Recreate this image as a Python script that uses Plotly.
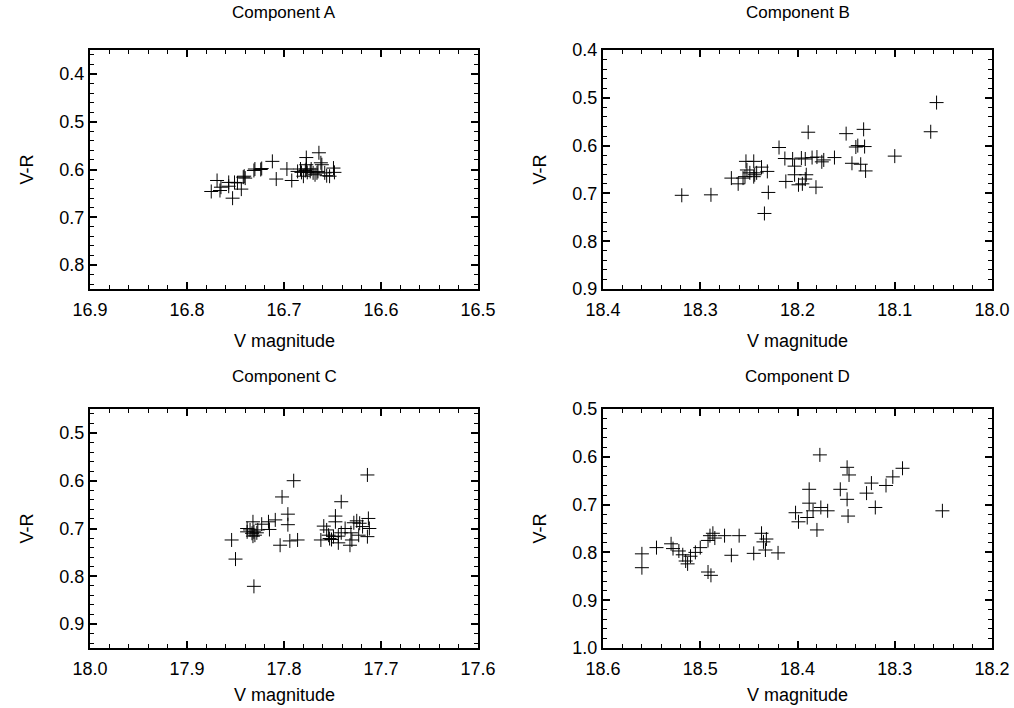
import plotly.graph_objects as go

# ---------------- data ----------------
A_V = [16.775, 16.769, 16.766, 16.765, 16.757, 16.757, 16.753, 16.751, 16.748, 16.744,
       16.741, 16.740, 16.742, 16.731, 16.730, 16.724, 16.723, 16.712, 16.708, 16.697,
       16.692, 16.686, 16.682, 16.678, 16.677, 16.677, 16.677, 16.680, 16.676, 16.673,
       16.670, 16.668, 16.664, 16.662, 16.661, 16.665, 16.666, 16.658, 16.656, 16.653,
       16.649, 16.648, 16.683, 16.672]
A_VR = [0.646, 0.623, 0.644, 0.637, 0.627, 0.635, 0.660, 0.627, 0.628, 0.641,
        0.614, 0.618, 0.616, 0.602, 0.599, 0.600, 0.598, 0.583, 0.620, 0.599,
        0.623, 0.604, 0.606, 0.602, 0.575, 0.590, 0.599, 0.614, 0.606, 0.604,
        0.607, 0.611, 0.565, 0.586, 0.590, 0.604, 0.607, 0.607, 0.613, 0.614,
        0.597, 0.606, 0.599, 0.599]

B_V = [18.057, 18.063, 18.100, 18.189, 18.150, 18.132, 18.140, 18.138, 18.131, 18.162,
       18.144, 18.135, 18.130, 18.173, 18.175, 18.180, 18.185, 18.192, 18.196, 18.191,
       18.192, 18.195, 18.181, 18.219, 18.213, 18.205, 18.203, 18.212, 18.199, 18.203,
       18.253, 18.245, 18.252, 18.237, 18.231, 18.249, 18.244, 18.242, 18.254, 18.256,
       18.268, 18.261, 18.245, 18.319, 18.289, 18.230, 18.234]
B_VR = [0.510, 0.571, 0.622, 0.572, 0.575, 0.566, 0.603, 0.600, 0.602, 0.625,
        0.637, 0.639, 0.653, 0.630, 0.634, 0.624, 0.625, 0.628, 0.626, 0.661,
        0.670, 0.680, 0.687, 0.604, 0.627, 0.628, 0.643, 0.675, 0.682, 0.661,
        0.633, 0.633, 0.651, 0.645, 0.654, 0.657, 0.661, 0.657, 0.665, 0.668,
        0.668, 0.680, 0.665, 0.704, 0.703, 0.698, 0.742]

C_V = [17.714, 17.790, 17.802, 17.741, 17.796, 17.796, 17.804, 17.794, 17.786, 17.854,
       17.850, 17.831, 17.832, 17.823, 17.816, 17.809, 17.815, 17.838, 17.838, 17.835,
       17.833, 17.831, 17.830, 17.832, 17.828, 17.827, 17.747, 17.747, 17.759, 17.756,
       17.754, 17.762, 17.753, 17.751, 17.749, 17.744, 17.741, 17.737, 17.731, 17.730,
       17.732, 17.728, 17.725, 17.722, 17.719, 17.713, 17.712, 17.714, 17.723, 17.744]
C_VR = [0.588, 0.600, 0.634, 0.644, 0.670, 0.692, 0.735, 0.726, 0.724, 0.724,
        0.764, 0.821, 0.686, 0.691, 0.686, 0.682, 0.702, 0.700, 0.707, 0.703,
        0.710, 0.707, 0.714, 0.716, 0.709, 0.703, 0.674, 0.686, 0.695, 0.703,
        0.714, 0.724, 0.721, 0.723, 0.717, 0.730, 0.709, 0.700, 0.709, 0.724,
        0.735, 0.688, 0.684, 0.689, 0.696, 0.679, 0.700, 0.717, 0.714, 0.716]

D_V = [18.377, 18.349, 18.347, 18.292, 18.302, 18.309, 18.324, 18.329, 18.356, 18.349,
       18.320, 18.348, 18.251, 18.388, 18.388, 18.384, 18.376, 18.369, 18.402, 18.399,
       18.390, 18.380,
       18.560, 18.560, 18.545, 18.530, 18.528, 18.522, 18.518, 18.515, 18.513, 18.510,
       18.505, 18.500, 18.492, 18.490, 18.487, 18.485, 18.492, 18.489, 18.475, 18.468,
       18.460, 18.445, 18.437, 18.435, 18.432, 18.433, 18.420]
D_VR = [0.596, 0.622, 0.638, 0.624, 0.642, 0.660, 0.655, 0.676, 0.668, 0.689,
        0.706, 0.724, 0.713, 0.668, 0.697, 0.713, 0.706, 0.713, 0.717, 0.736,
        0.727, 0.753,
        0.803, 0.832, 0.790, 0.782, 0.792, 0.797, 0.805, 0.818, 0.824, 0.808,
        0.800, 0.790, 0.775, 0.765, 0.760, 0.770, 0.841, 0.848, 0.765, 0.806,
        0.765, 0.802, 0.760, 0.778, 0.772, 0.795, 0.801]

titles = ["Component A", "Component B", "Component C", "Component D"]
x_label = "V magnitude"
y_label = "V-R"

x_ticks = [[16.9, 16.8, 16.7, 16.6, 16.5],
           [18.4, 18.3, 18.2, 18.1, 18.0],
           [18.0, 17.9, 17.8, 17.7, 17.6],
           [18.6, 18.5, 18.4, 18.3, 18.2]]
y_ticks = [[0.4, 0.5, 0.6, 0.7, 0.8],
           [0.4, 0.5, 0.6, 0.7, 0.8, 0.9],
           [0.5, 0.6, 0.7, 0.8, 0.9],
           [0.5, 0.6, 0.7, 0.8, 0.9, 1.0]]
x_ranges = [[16.9, 16.5], [18.4, 18.0], [18.0, 17.6], [18.6, 18.2]]
y_ranges = [[0.85, 0.35], [0.9, 0.4], [0.95, 0.45], [1.0, 0.5]]

# ---------------- figure ----------------
W, H = 1014, 708
ML, MR, MT, MB = 90, 22, 50, 60
pw, ph = W - ML - MR, H - MT - MB

def xd(a, b):
    return [(a - ML) / pw, (b - ML) / pw]

def yd(top, bot):
    return [(H - MB - bot) / ph, (H - MB - top) / ph]

x_domains = [xd(90, 478), xd(603, 992), xd(90, 478), xd(603, 992)]
y_domains = [yd(50, 289), yd(50, 289), yd(409, 648), yd(409, 648)]
title_shift = [26, 26, 21, 21]
xlabel_shift = [-52, -52, -47, -47]

FONT = "Liberation Sans, Arial, Helvetica, sans-serif"
LABEL_FONT = dict(family=FONT, size=18, color="black")
fig = go.Figure()
series = [(A_V, A_VR), (B_V, B_VR), (C_V, C_VR), (D_V, D_VR)]


def tick_style(t0):
    return dict(showline=True, linecolor="black", linewidth=2, mirror="allticks",
                ticks="inside", ticklen=7, tickwidth=1.5, tickcolor="black",
                tickmode="linear", tick0=t0, dtick=0.1, tickformat=".1f",
                minor=dict(ticks="inside", dtick=0.02, ticklen=4, tickwidth=1.2,
                           tickcolor="black", showgrid=False),
                showgrid=False, zeroline=False, automargin=False,
                tickfont=LABEL_FONT)


for i, (xv, yv) in enumerate(series):
    n = "" if i == 0 else str(i + 1)
    m = str(i + 5)
    marker = dict(symbol="cross-thin", size=10, color="black",
                  line=dict(color="black", width=1))
    fig.add_trace(go.Scatter(x=xv, y=yv, mode="markers", xaxis="x" + n, yaxis="y" + n,
                             marker=marker, showlegend=False, hoverinfo="x+y"))
    # companion (invisible) trace on the opposite-side axes so their ticks are drawn
    fig.add_trace(go.Scatter(x=xv, y=yv, mode="markers", xaxis="x" + m, yaxis="y" + m,
                             marker=dict(marker, opacity=0), showlegend=False,
                             hoverinfo="skip"))

    fig.layout["xaxis" + n] = dict(
        tick_style(x_ticks[i][0]), domain=x_domains[i], range=x_ranges[i],
        anchor="y" + n, ticklabelstandoff=3)
    fig.layout["yaxis" + n] = dict(
        tick_style(y_ticks[i][0]), domain=y_domains[i], range=y_ranges[i],
        anchor="x" + n)
    fig.layout["xaxis" + m] = dict(
        tick_style(x_ticks[i][0]), range=x_ranges[i], overlaying="x" + n,
        side="top", anchor="y" + m, showticklabels=False)
    fig.layout["yaxis" + m] = dict(
        tick_style(y_ticks[i][0]), range=y_ranges[i], overlaying="y" + n,
        side="right", anchor="x" + m, showticklabels=False)

    cx = sum(x_domains[i]) / 2
    cy = sum(y_domains[i]) / 2
    # subplot title
    fig.add_annotation(
        text=titles[i], xref="paper", yref="paper",
        x=cx, y=y_domains[i][1], yshift=title_shift[i],
        showarrow=False, xanchor="center", yanchor="bottom",
        font=dict(family=FONT, size=17, color="black"))
    # x-axis title
    fig.add_annotation(
        text=x_label, xref="paper", yref="paper",
        x=cx, y=y_domains[i][0], yshift=xlabel_shift[i],
        showarrow=False, xanchor="center", yanchor="middle", font=LABEL_FONT)
    # y-axis title
    fig.add_annotation(
        text=y_label, xref="paper", yref="paper",
        x=x_domains[i][0], y=cy, xshift=-64, textangle=-90,
        showarrow=False, xanchor="center", yanchor="middle", font=LABEL_FONT)

fig.update_layout(width=W, height=H, margin=dict(l=ML, r=MR, t=MT, b=MB),
                  paper_bgcolor="white", plot_bgcolor="white",
                  font=dict(family=FONT, color="black"))

fig.write_html("out.html")
